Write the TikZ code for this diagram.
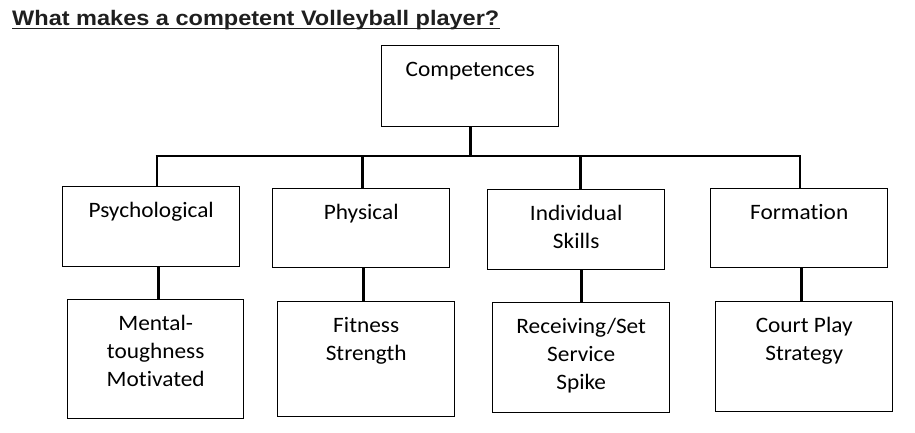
\documentclass[tikz,border=0pt]{standalone}
\usepackage{fontspec}
\setmainfont{Carlito}[FakeStretch=1.06,Ligatures=NoCommon]
\newfontfamily\titlefont{Liberation Sans}[FakeStretch=1.12]
\newcommand\boxtxt[3]{\parbox[t][#2][t]{#1}{\centering\rule{0pt}{31pt}#3}}
\begin{document}
\begin{tikzpicture}[x=1pt,y=-1pt,
  box/.style={draw=black, line width=1.4pt, inner sep=0pt, anchor=north west, font=\fontsize{22}{28}\selectfont},
  conn/.style={draw=black, line width=2.8pt},
  titletext/.style={inner sep=0pt, anchor=base west, text=black!88, font=\titlefont\bfseries\fontsize{21}{25}\selectfont}]
\useasboundingbox (0,0) rectangle (915,432);
\fill[white] (0,0) rectangle (915,432);

\node[titletext] (title) at (12,25) {What makes a competent Volleyball player?};
\draw[line width=1.5pt, black!88] ([yshift=-3.5pt]title.base west) -- ([yshift=-3.5pt]title.base east);

\node[box] (comp) at (381,45) {\boxtxt{177pt}{81pt}{Competences}};

\node[box] (psy)  at (62,186)  {\boxtxt{177pt}{80pt}{Psychological}};
\node[box] (phys) at (272,188) {\boxtxt{177pt}{79pt}{Physical}};
\node[box] (ind)  at (487,189) {\boxtxt{177pt}{80pt}{Individual\\Skills}};
\node[box] (form) at (710,188) {\boxtxt{177pt}{79pt}{Formation}};

\node[box] (ment) at (67,299)  {\boxtxt{176pt}{119pt}{Mental-\\toughness\\Motivated}};
\node[box] (fit)  at (277,301) {\boxtxt{177pt}{115pt}{Fitness\\Strength}};
\node[box] (rec)  at (492,302) {\boxtxt{177pt}{110pt}{Receiving/Set\\Service\\Spike}};
\node[box] (court) at (715,301) {\boxtxt{177pt}{110pt}{Court Play\\Strategy}};

\coordinate (barL) at (157,156);
\coordinate (barR) at (800,156);
\draw[conn] ([xshift=-1.4pt]barL) -- ([xshift=1.4pt]barR);
\draw[conn] (comp.south) -- (comp.south |- barL);
\draw[conn] (barL) -- (barL |- psy.north);
\draw[conn] ([xshift=1.5pt]phys.north |- barL) -- ([xshift=1.5pt]phys.north);
\draw[conn] ([xshift=4.5pt]ind.north |- barL) -- ([xshift=4.5pt]ind.north);
\draw[conn] (barR) -- (barR |- form.north);

\draw[conn] ([xshift=3pt]ment.north |- psy.south) -- ([xshift=3pt]ment.north);
\draw[conn] ([xshift=-2.5pt]fit.north |- phys.south) -- ([xshift=-2.5pt]fit.north);
\draw[conn] ([xshift=0.5pt]rec.north |- ind.south) -- ([xshift=0.5pt]rec.north);
\draw[conn] ([xshift=-3pt]court.north |- form.south) -- ([xshift=-3pt]court.north);
\end{tikzpicture}
\end{document}
